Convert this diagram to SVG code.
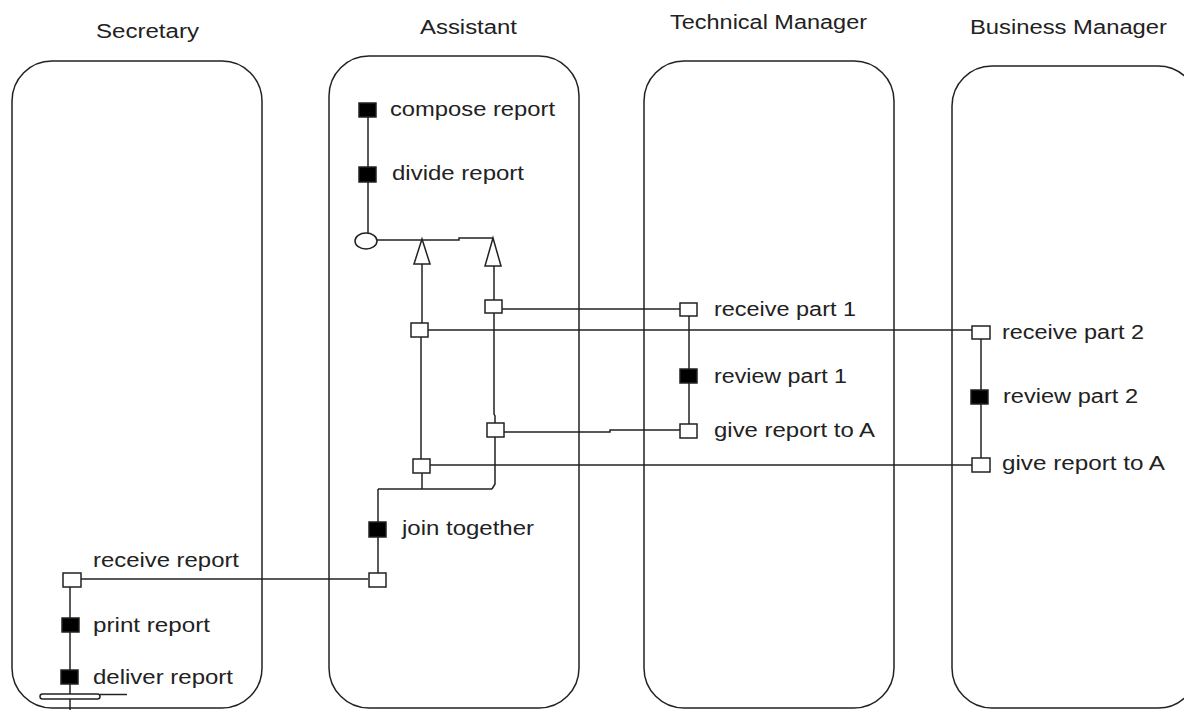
<svg xmlns="http://www.w3.org/2000/svg" width="1184" height="710" viewBox="0 0 1184 710">
  <style>
    .lane { fill: none; stroke: #222; stroke-width: 1.5; }
    .title, .lbl { font-family: "Liberation Sans", Arial, sans-serif; font-size: 20px; fill: #222; }
    .act { fill: #000; stroke: #222; stroke-width: 1.5; }
    .msg { fill: #fff; stroke: #222; stroke-width: 1.5; }
    .wire { fill: none; stroke: #222; stroke-width: 1.5; }
    .fork { fill: #fff; stroke: #222; stroke-width: 1.5; }
  </style>
  <rect width="1184" height="710" fill="#fff"/>

  <!-- swimlanes -->
  <g id="lane-secretary">
    <rect class="lane" x="12" y="61" width="250" height="647" rx="40" ry="40"/>
    <text class="title" x="96" y="38" textLength="103" lengthAdjust="spacingAndGlyphs">Secretary</text>
  </g>
  <g id="lane-assistant">
    <rect class="lane" x="329" y="56" width="250" height="652" rx="40" ry="40"/>
    <text class="title" x="420" y="34" textLength="97" lengthAdjust="spacingAndGlyphs">Assistant</text>
  </g>
  <g id="lane-technical">
    <rect class="lane" x="644" y="61" width="250" height="647" rx="40" ry="40"/>
    <text class="title" x="670" y="29" textLength="197" lengthAdjust="spacingAndGlyphs">Technical Manager</text>
  </g>
  <g id="lane-business">
    <rect class="lane" x="952" y="66" width="246" height="642" rx="40" ry="40"/>
    <text class="title" x="970" y="34" textLength="197" lengthAdjust="spacingAndGlyphs">Business Manager</text>
  </g>

  <!-- connectors -->
  <g id="connectors">
    <!-- assistant: compose -> divide -> fork -->
    <line class="wire" x1="368" y1="117" x2="368" y2="167"/>
    <line class="wire" x1="368" y1="182" x2="368" y2="233"/>
    <polyline class="wire" points="377,240 459,240 459,238 493,238"/>
    <!-- left branch -->
    <line class="wire" x1="422" y1="264" x2="422" y2="323"/>
    <line class="wire" x1="421" y1="337" x2="421" y2="459"/>
    <line class="wire" x1="422" y1="473" x2="422" y2="489"/>
    <!-- right branch -->
    <line class="wire" x1="494" y1="266" x2="494" y2="300"/>
    <polyline class="wire" points="494,313 494,414 495,416 495,423"/>
    <polyline class="wire" points="495,437 495,484 492,489"/>
    <!-- join -->
    <line class="wire" x1="378" y1="489" x2="492" y2="489"/>
    <line class="wire" x1="378" y1="489" x2="378" y2="522"/>
    <line class="wire" x1="378" y1="537" x2="378" y2="573"/>
    <!-- assistant -> secretary -->
    <line class="wire" x1="81" y1="579" x2="368" y2="579"/>
    <!-- secretary chain -->
    <line class="wire" x1="70" y1="587" x2="70" y2="618"/>
    <line class="wire" x1="70" y1="632" x2="70" y2="670"/>
    <line class="wire" x1="70" y1="684" x2="70" y2="710"/>
    <!-- assistant <-> technical manager -->
    <line class="wire" x1="502" y1="309" x2="680" y2="309"/>
    <polyline class="wire" points="504,432 610,432 610,430 680,430"/>
    <!-- assistant <-> business manager -->
    <line class="wire" x1="428" y1="330" x2="972" y2="330"/>
    <line class="wire" x1="430" y1="465" x2="972" y2="465"/>
    <!-- technical manager chain -->
    <line class="wire" x1="689" y1="316" x2="689" y2="369"/>
    <line class="wire" x1="689" y1="383" x2="689" y2="424"/>
    <!-- business manager chain -->
    <line class="wire" x1="981" y1="339" x2="981" y2="390"/>
    <line class="wire" x1="981" y1="404" x2="981" y2="458"/>
  </g>

  <!-- assistant nodes -->
  <g id="compose-report">
    <rect class="act" x="359" y="103" width="17" height="14"/>
    <text class="lbl" x="390" y="116" textLength="165" lengthAdjust="spacingAndGlyphs">compose report</text>
  </g>
  <g id="divide-report">
    <rect class="act" x="359" y="167" width="17" height="15"/>
    <text class="lbl" x="392" y="180" textLength="132" lengthAdjust="spacingAndGlyphs">divide report</text>
  </g>
  <g id="split">
    <ellipse class="fork" cx="366" cy="241" rx="11" ry="8"/>
    <polygon class="fork" points="422,239 430,264 414,264"/>
    <polygon class="fork" points="493,238 501,266 485,266"/>
  </g>
  <g id="send-part-1">
    <rect class="msg" x="485" y="300" width="17" height="13"/>
  </g>
  <g id="send-part-2">
    <rect class="msg" x="411" y="323" width="17" height="14"/>
  </g>
  <g id="get-part-1">
    <rect class="msg" x="487" y="423" width="17" height="14"/>
  </g>
  <g id="get-part-2">
    <rect class="msg" x="413" y="459" width="17" height="14"/>
  </g>
  <g id="join-together">
    <rect class="act" x="369" y="522" width="17" height="15"/>
    <text class="lbl" x="402" y="535" textLength="132" lengthAdjust="spacingAndGlyphs">join together</text>
  </g>
  <g id="send-report">
    <rect class="msg" x="369" y="573" width="17" height="14"/>
  </g>

  <!-- secretary nodes -->
  <g id="receive-report">
    <rect class="msg" x="63" y="573" width="18" height="14"/>
    <text class="lbl" x="93" y="567" textLength="146" lengthAdjust="spacingAndGlyphs">receive report</text>
  </g>
  <g id="print-report">
    <rect class="act" x="62" y="618" width="17" height="14"/>
    <text class="lbl" x="93" y="632" textLength="117" lengthAdjust="spacingAndGlyphs">print report</text>
  </g>
  <g id="deliver-report">
    <rect class="act" x="61" y="670" width="17" height="14"/>
    <text class="lbl" x="93" y="684" textLength="140" lengthAdjust="spacingAndGlyphs">deliver report</text>
  </g>
  <g id="end">
    <rect class="fork" x="40" y="694" width="60" height="5" rx="2.5" ry="2.5"/>
    <line class="wire" x1="100" y1="694.5" x2="127" y2="694.5"/>
  </g>

  <!-- technical manager nodes -->
  <g id="receive-part-1">
    <rect class="msg" x="680" y="303" width="17" height="13"/>
    <text class="lbl" x="714" y="316" textLength="142" lengthAdjust="spacingAndGlyphs">receive part 1</text>
  </g>
  <g id="review-part-1">
    <rect class="act" x="680" y="369" width="17" height="14"/>
    <text class="lbl" x="714" y="383" textLength="133" lengthAdjust="spacingAndGlyphs">review part 1</text>
  </g>
  <g id="give-report-tm">
    <rect class="msg" x="680" y="424" width="17" height="14"/>
    <text class="lbl" x="714" y="437" textLength="161" lengthAdjust="spacingAndGlyphs">give report to A</text>
  </g>

  <!-- business manager nodes -->
  <g id="receive-part-2">
    <rect class="msg" x="972" y="326" width="18" height="13"/>
    <text class="lbl" x="1002" y="339" textLength="142" lengthAdjust="spacingAndGlyphs">receive part 2</text>
  </g>
  <g id="review-part-2">
    <rect class="act" x="971" y="390" width="17" height="14"/>
    <text class="lbl" x="1003" y="403" textLength="135" lengthAdjust="spacingAndGlyphs">review part 2</text>
  </g>
  <g id="give-report-bm">
    <rect class="msg" x="972" y="458" width="18" height="14"/>
    <text class="lbl" x="1002" y="470" textLength="163" lengthAdjust="spacingAndGlyphs">give report to A</text>
  </g>
</svg>
